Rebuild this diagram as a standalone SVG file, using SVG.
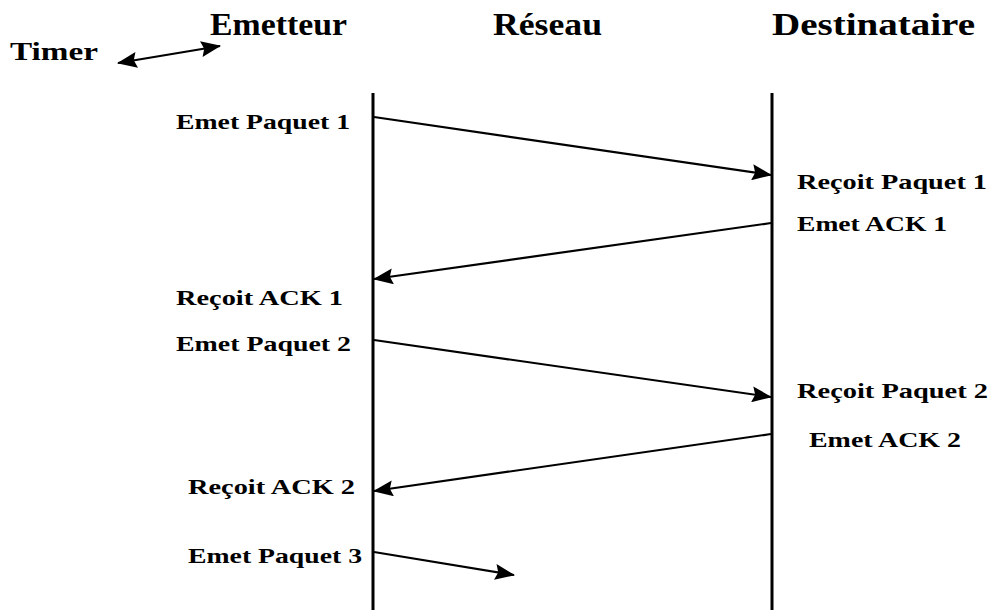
<svg xmlns="http://www.w3.org/2000/svg" width="993" height="610" viewBox="0 0 993 610">
<style>
text{font-family:"Liberation Serif","DejaVu Serif",serif;font-weight:bold;fill:#000}
.h{font-size:32px}
.l{font-size:22px}
.life{stroke:#000;stroke-width:3;fill:none}
.msg{stroke:#000;stroke-width:2.2;fill:none;marker-end:url(#ah)}
</style>
<defs>
<marker id="ah" markerUnits="userSpaceOnUse" markerWidth="20" markerHeight="16" viewBox="0 0 20 16" refX="19" refY="8" orient="auto">
<path d="M0,0 L20,8 L0,16 L3,8 Z" fill="#000"/>
</marker>
<marker id="as" markerUnits="userSpaceOnUse" markerWidth="20" markerHeight="16" viewBox="0 0 20 16" refX="1" refY="8" orient="auto">
<path d="M20,0 L0,8 L20,16 L17,8 Z" fill="#000"/>
</marker>
</defs>
<g id="headers">
<text class="h" x="210" y="35" textLength="137" lengthAdjust="spacingAndGlyphs">Emetteur</text>
<text class="h" x="493" y="35" textLength="109" lengthAdjust="spacingAndGlyphs">Réseau</text>
<text class="h" x="772" y="35" textLength="203" lengthAdjust="spacingAndGlyphs">Destinataire</text>
</g>
<g id="timer">
<text class="l" x="10" y="60" textLength="88" lengthAdjust="spacingAndGlyphs" style="font-size:25px">Timer</text>
</g>
<g id="emetteur">
<line class="life" x1="373" y1="93" x2="373" y2="610"/>
</g>
<g id="destinataire">
<line class="life" x1="772" y1="93" x2="772" y2="610"/>
</g>
<g id="labels">
<text class="l" x="176" y="129" textLength="174" lengthAdjust="spacingAndGlyphs">Emet Paquet 1</text>
<text class="l" x="797" y="189" textLength="190" lengthAdjust="spacingAndGlyphs">Reçoit Paquet 1</text>
<text class="l" x="797" y="231" textLength="150" lengthAdjust="spacingAndGlyphs">Emet ACK 1</text>
<text class="l" x="176" y="305" textLength="167" lengthAdjust="spacingAndGlyphs">Reçoit ACK 1</text>
<text class="l" x="176" y="351" textLength="175" lengthAdjust="spacingAndGlyphs">Emet Paquet 2</text>
<text class="l" x="797" y="398" textLength="191" lengthAdjust="spacingAndGlyphs">Reçoit Paquet 2</text>
<text class="l" x="809" y="447" textLength="152" lengthAdjust="spacingAndGlyphs">Emet ACK 2</text>
<text class="l" x="188" y="494" textLength="167" lengthAdjust="spacingAndGlyphs">Reçoit ACK 2</text>
<text class="l" x="188" y="563" textLength="174" lengthAdjust="spacingAndGlyphs">Emet Paquet 3</text>
</g>
<g id="connectors">
<line class="msg" x1="118" y1="63" x2="220" y2="46" style="marker-start:url(#as)"/>
<line class="msg" x1="374" y1="117" x2="771" y2="175"/>
<line class="msg" x1="771" y1="223" x2="374" y2="279"/>
<line class="msg" x1="374" y1="340" x2="771" y2="397"/>
<line class="msg" x1="771" y1="434" x2="374" y2="491"/>
<line class="msg" x1="374" y1="552" x2="514" y2="575"/>
</g>
</svg>
